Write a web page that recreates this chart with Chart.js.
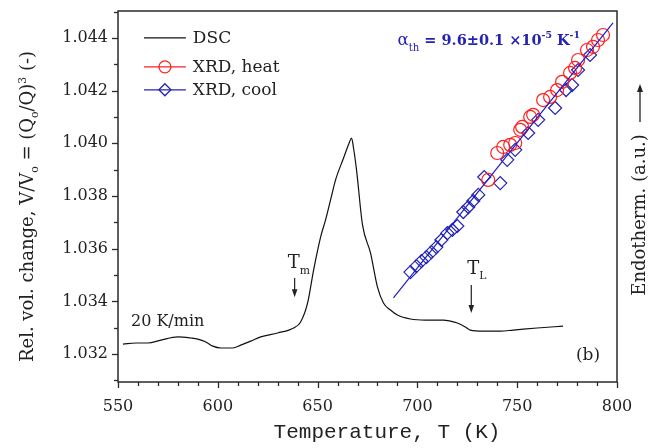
<!DOCTYPE html>
<html><head><meta charset="utf-8">
<script src="https://cdn.jsdelivr.net/npm/chart.js@4.4.1/dist/chart.umd.min.js"></script>
<style>html,body{margin:0;padding:0;background:#fff}#wrap{width:652px;height:448px}</style>
</head><body><div id="wrap"><canvas id="c" width="652" height="448"></canvas></div>
<script>
// ---- data ----
const dscT = [552.5,559,565,571.5,580,586.5,590,594,597.5,601.5,607.5,611.5,616.5,621.5,630,638,641.5,645,648,651.5,654,656.5,659,663,666,667,668,669.5,672.5,676.5,680,683,686.5,690,696.5,704,713,716.5,720,724,726.5,733,741.5,748,760,773];
const dscV = [1.03238,1.03242,1.03242,1.03253,1.03265,1.03261,1.03257,1.03246,1.03230,1.03223,1.03223,1.03234,1.03249,1.03265,1.03280,1.03299,1.03322,1.03394,1.03519,1.03644,1.03709,1.03785,1.03861,1.03944,1.04005,1.04020,1.03982,1.03899,1.03690,1.03584,1.03454,1.03394,1.03367,1.03348,1.03333,1.03329,1.03329,1.03325,1.03318,1.03303,1.03291,1.03287,1.03287,1.03291,1.03299,1.03306];
const heatT = [735.5,740,743,746.5,749,751.5,752.5,756.5,758,763,766.5,770,772.5,776.5,779,780.5,785,788,790.5,793];
const heatV = [1.03861,1.03963,1.03986,1.03994,1.04001,1.04051,1.04062,1.04100,1.04108,1.04164,1.04176,1.04202,1.04233,1.04267,1.04286,1.04316,1.04354,1.04366,1.04392,1.04411];
const coolT = [696.5,699.5,702,704.5,707,709.5,712,715,717.5,720,723,725.5,728,730.5,733.5,741.5,745,749,755.5,760.5,769,774.5,777.5,780.5,786.5];
const coolV = [1.03511,1.03534,1.03553,1.03568,1.03587,1.03606,1.03633,1.03659,1.03671,1.03686,1.03739,1.03758,1.03781,1.03804,1.03872,1.03849,1.03937,1.03975,1.04039,1.04089,1.04134,1.04202,1.04221,1.04278,1.04335];
const fitT = [688, 798];
const fitV = [1.03413, 1.04457];
const xTickLabels = [550, 600, 650, 700, 750, 800];
const yTickLabels = ['1.032','1.034','1.036','1.038','1.040','1.042','1.044'];
const legendLabels = ['DSC', 'XRD, heat', 'XRD, cool'];
const xTitle = 'Temperature, T (K)';
const rightTitle = 'Endotherm. (a.u.)';
const fitLabel = ['\u03B1', 'th', ' = 9.6\u00B10.1 \u00D710', '-5', ' K', '-1'];
const rateLabel = '20 K/min';
const panelLabel = '(b)';

// ---- helpers ----
const SERIF = '"DejaVu Serif", "Liberation Serif", serif';
const toXY = (xs, ys) => xs.map((x, i) => ({x: x, y: ys[i]}));
const BLUE = '#2323b4', RED = '#ff2020', AX = '#2a2a2a';

function richDraw(ctx, parts, x, y, base, align, color) {
  let total = 0;
  parts.forEach(p => { ctx.font = (p.w || 'normal') + ' ' + (base * (p.s || 1)) + 'px ' + (p.f || SERIF); total += ctx.measureText(p.t).width; });
  let cx = align === 'center' ? x - total / 2 : (align === 'right' ? x - total : x);
  ctx.fillStyle = color; ctx.textAlign = 'left'; ctx.textBaseline = 'alphabetic';
  parts.forEach(p => {
    ctx.font = (p.w || 'normal') + ' ' + (base * (p.s || 1)) + 'px ' + (p.f || SERIF);
    ctx.fillText(p.t, cx, y + (p.dy || 0) * base);
    cx += ctx.measureText(p.t).width;
  });
  return total;
}
function arrowDown(ctx, x, y0, y1) {
  ctx.save(); ctx.strokeStyle = '#222'; ctx.fillStyle = '#222'; ctx.lineWidth = 1.2;
  ctx.beginPath(); ctx.moveTo(x, y0); ctx.lineTo(x, y1 - 6); ctx.stroke();
  ctx.beginPath(); ctx.moveTo(x - 2.8, y1 - 8); ctx.lineTo(x + 2.8, y1 - 8); ctx.lineTo(x, y1); ctx.closePath(); ctx.fill();
  ctx.restore();
}
function marker(ctx, style, x, y, r, color) {
  ctx.save(); ctx.strokeStyle = color; ctx.lineWidth = 1.3; ctx.beginPath();
  if (style === 'circle') ctx.arc(x, y, r, 0, Math.PI * 2);
  else { ctx.moveTo(x, y - r); ctx.lineTo(x + r, y); ctx.lineTo(x, y + r); ctx.lineTo(x - r, y); ctx.closePath(); }
  ctx.stroke(); ctx.restore();
}

const decor = {
  id: 'decor',
  afterDraw(chart) {
    const ctx = chart.ctx, a = chart.chartArea, xs = chart.scales.x, ys = chart.scales.y;
    ctx.save();
    ctx.strokeStyle = AX; ctx.lineWidth = 1.5;
    ctx.strokeRect(a.left, a.top, a.right - a.left, a.bottom - a.top);
    ctx.lineWidth = 1.3;
    xs.ticks.forEach(t => {
      const px = Math.round(xs.getPixelForValue(t.value)) + 0.5;
      const len = t.label !== '' ? 6 : 4;
      ctx.beginPath(); ctx.moveTo(px, a.bottom); ctx.lineTo(px, a.bottom + len); ctx.stroke();
    });
    ys.ticks.forEach(t => {
      const py = Math.round(ys.getPixelForValue(t.value)) + 0.5;
      if (py < a.top + 1) return;
      const len = t.label !== '' ? 6 : 4;
      ctx.beginPath(); ctx.moveTo(a.left, py); ctx.lineTo(a.left - len, py); ctx.stroke();
    });
    // legend
    const rowsV = [1.04400, 1.04290, 1.04203];
    const cols = ['#111', RED, BLUE];
    const styles = [null, 'circle', 'diamond'];
    const lx0 = xs.getPixelForValue(563), lx1 = xs.getPixelForValue(584), ltx = xs.getPixelForValue(587.5);
    legendLabels.forEach((lab, i) => {
      const py = ys.getPixelForValue(rowsV[i]);
      ctx.strokeStyle = cols[i]; ctx.lineWidth = 1.2;
      ctx.beginPath(); ctx.moveTo(lx0, py); ctx.lineTo(lx1, py); ctx.stroke();
      if (styles[i]) marker(ctx, styles[i], (lx0 + lx1) / 2, py, 6, cols[i]);
      ctx.font = '17px ' + SERIF; ctx.fillStyle = '#222'; ctx.textAlign = 'left'; ctx.textBaseline = 'middle';
      ctx.fillText(lab, ltx, py + 1);
    });
    // fit annotation
    richDraw(ctx, [
      {t: fitLabel[0], s: 1.15}, {t: fitLabel[1], s: 0.7, dy: 0.4},
      {t: fitLabel[2], s: 1, w: 'bold'}, {t: fitLabel[3], s: 0.65, dy: -0.45, w: 'bold'},
      {t: fitLabel[4], s: 1, w: 'bold'}, {t: fitLabel[5], s: 0.65, dy: -0.45, w: 'bold'}
    ], xs.getPixelForValue(690), ys.getPixelForValue(1.04392) + 5, 14.5, 'left', BLUE);
    // T_m and T_L
    richDraw(ctx, [{t: 'T', s: 1}, {t: 'm', s: 0.6, dy: 0.3}], xs.getPixelForValue(635), ys.getPixelForValue(1.03549) + 6, 18, 'left', '#222');
    arrowDown(ctx, xs.getPixelForValue(638.5), ys.getPixelForValue(1.03489), ys.getPixelForValue(1.03416));
    richDraw(ctx, [{t: 'T', s: 1}, {t: 'L', s: 0.6, dy: 0.3}], xs.getPixelForValue(725), ys.getPixelForValue(1.03527) + 6, 18, 'left', '#222');
    arrowDown(ctx, xs.getPixelForValue(727), ys.getPixelForValue(1.03462), ys.getPixelForValue(1.03356));
    // rate & panel label
    ctx.font = '16px ' + SERIF; ctx.fillStyle = '#222'; ctx.textBaseline = 'middle'; ctx.textAlign = 'left';
    ctx.fillText(rateLabel, xs.getPixelForValue(556.5), ys.getPixelForValue(1.03322));
    ctx.textAlign = 'right'; ctx.font = '17px ' + SERIF;
    ctx.fillText(panelLabel, xs.getPixelForValue(791.5), ys.getPixelForValue(1.03196));
    // x title
    ctx.font = '21px "Liberation Mono", "DejaVu Sans Mono", monospace'; ctx.textAlign = 'center'; ctx.textBaseline = 'middle';
    ctx.fillText(xTitle, 387, 432);
    // y title (rotated)
    ctx.save(); ctx.translate(33, (a.top + a.bottom) / 2 + 10); ctx.rotate(-Math.PI / 2);
    richDraw(ctx, [
      {t: 'Rel. vol. change, V/V'}, {t: 'o', s: 0.6, dy: 0.3}, {t: ' = (Q'}, {t: 'o', s: 0.6, dy: 0.3},
      {t: '/Q)'}, {t: '3', s: 0.6, dy: -0.4}, {t: ' (-)'}
    ], 0, 0, 18, 'center', '#222');
    ctx.restore();
    // right title with arrow
    ctx.save(); ctx.translate(645, 215); ctx.rotate(-Math.PI / 2);
    ctx.font = '18px ' + SERIF; ctx.fillStyle = '#222'; ctx.textAlign = 'center'; ctx.textBaseline = 'alphabetic';
    ctx.fillText(rightTitle, 0, 0);
    ctx.restore();
    ctx.strokeStyle = '#222'; ctx.fillStyle = '#222'; ctx.lineWidth = 1.3;
    ctx.beginPath(); ctx.moveTo(640, 122); ctx.lineTo(640, 90); ctx.stroke();
    ctx.beginPath(); ctx.moveTo(637, 92); ctx.lineTo(643, 92); ctx.lineTo(640, 84); ctx.closePath(); ctx.fill();
    ctx.restore();
  }
};

new Chart(document.getElementById('c'), {
  type: 'scatter',
  data: {
    datasets: [
      {label: 'fit', data: toXY(fitT, fitV), showLine: true, borderColor: '#1c1cc8', borderWidth: 1.2, pointRadius: 0, order: 0},
      {label: legendLabels[1], data: toXY(heatT, heatV), pointStyle: 'circle', pointRadius: 6.5, pointBorderWidth: 1.2, pointBorderColor: RED, pointBackgroundColor: 'rgba(0,0,0,0)', borderColor: RED, order: 1},
      {label: legendLabels[2], data: toXY(coolT, coolV), pointStyle: 'rectRot', pointRadius: 6.5, pointBorderWidth: 1.2, pointBorderColor: BLUE, pointBackgroundColor: 'rgba(0,0,0,0)', borderColor: BLUE, order: 2},
      {label: legendLabels[0], data: toXY(dscT, dscV), showLine: true, borderColor: '#111', borderWidth: 1.2, pointRadius: 0, cubicInterpolationMode: 'monotone', order: 3}
    ]
  },
  options: {
    responsive: false, animation: false, devicePixelRatio: 1,
    layout: {padding: {left: 0, top: 11, right: 35, bottom: 0}},
    plugins: {legend: {display: false}, tooltip: {enabled: false}},
    scales: {
      x: {
        type: 'linear', min: 550, max: 800,
        afterFit: s => { s.height = 66; s.paddingLeft = 0; s.paddingRight = 0; },
        grid: {display: true, drawOnChartArea: false, drawTicks: false},
        border: {display: false},
        ticks: {stepSize: 10, autoSkip: false, maxRotation: 0, padding: 15, color: '#222', font: {family: SERIF, size: 16},
          callback: v => (xTickLabels.indexOf(Math.round(v)) >= 0 ? String(Math.round(v)) : '')}
      },
      y: {
        type: 'linear', min: 1.03094, max: 1.04502,
        afterFit: s => { s.width = 118; s.paddingTop = 0; s.paddingBottom = 0; },
        grid: {display: true, drawOnChartArea: false, drawTicks: false},
        border: {display: false},
        ticks: {stepSize: 0.001, includeBounds: false, autoSkip: false, padding: 10, color: '#222', font: {family: SERIF, size: 16},
          callback: v => { const s = v.toFixed(3); return yTickLabels.indexOf(s) >= 0 ? s : ''; }}
      }
    }
  },
  plugins: [decor]
});
</script>
</body></html>
